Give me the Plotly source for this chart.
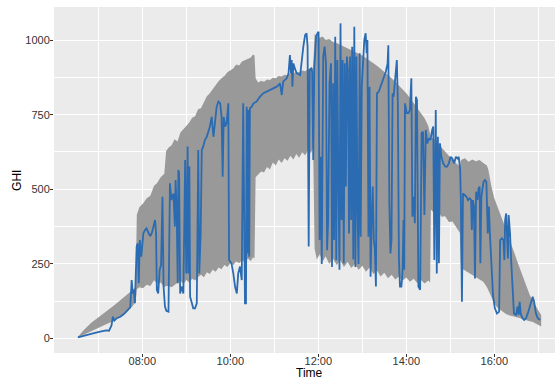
import pandas as pd
import plotly.graph_objects as go

# ---- ribbon (band) data: minutes since midnight, upper and lower GHI ----
rib_minute = [392, 400, 410, 420, 430, 440, 450, 460, 466, 471,
              472.5, 476, 481, 486, 491, 496, 500, 505, 510, 512.5,
              516, 520, 524, 528, 532, 536, 540, 544, 548, 552, 556, 560, 564, 568, 572, 576, 580,
              584, 588, 592, 596, 600, 604, 608, 612, 616, 620, 624, 628,
              631, 633, 634.5,
              638, 642, 646, 650, 654, 658, 662, 666, 670, 674, 678, 682, 686, 690, 694, 698, 702, 706, 710,
              713, 715, 718, 722, 726, 730,
              735, 740, 745, 750, 755, 760, 765, 770, 775, 780, 785, 790, 795, 800, 805, 810, 815, 820,
              825, 830, 835, 840, 845, 850, 855, 860, 865, 870,
              872.5, 873.5, 878, 883, 888, 893, 898, 903, 908, 913,
              914.5, 920, 925, 930, 935, 940, 945, 950, 952,
              956, 960, 964, 968, 972, 976, 980, 984, 988, 992, 996, 1000, 1004, 1008, 1012, 1016, 1020, 1024]
rib_upper = [5, 28, 52, 70, 90, 108, 128, 148, 160, 172,
             415, 440, 452, 470, 478, 512, 520, 540, 552, 628,
             640, 648, 668, 660, 690, 700, 712, 724, 740, 745, 768, 772, 795, 812, 822, 836, 850,
             862, 872, 880, 892, 898, 905, 918, 915, 928, 932, 938, 942,
             952, 948, 872,
             858, 864, 860, 868, 866, 874, 872, 880, 878, 884, 882, 890, 888, 894, 892, 898, 896, 902, 904,
             908, 1020, 1015, 1008, 1012, 1000,
             1004, 994, 990, 984, 978, 972, 968, 960, 956, 948, 940, 932, 924, 914, 904, 894, 884, 872,
             860, 848, 836, 822, 806, 790, 772, 754, 738, 712,
             690, 675, 668, 656, 640, 624, 612, 598, 588, 576,
             598, 604, 592, 600, 594, 598, 588, 580, 565,
             510, 470, 440, 418, 392, 368, 336, 306, 282, 254, 228, 196, 170, 148, 128, 112, 96, 78]
rib_lower = [3, 12, 24, 35, 47, 58, 74, 92, 106, 122,
             165, 172, 168, 180, 176, 195, 184, 188, 172, 176,
             176, 172, 180, 186, 194, 182, 196, 188, 200, 194, 206, 214, 205, 222, 216, 230, 224,
             238, 232, 246, 240, 252, 246, 258, 252, 262, 256, 268, 260,
             272, 268, 540,
             548, 560, 556, 575, 566, 590, 580, 600, 588, 604, 596, 612, 600, 618, 606, 624, 614, 630, 622,
             640, 300, 265, 282, 258, 276,
             250, 268, 246, 262, 240, 256, 236, 250, 230, 244, 224, 238, 216, 228, 208, 220, 202, 214,
             198, 208, 194, 204, 190, 200, 186, 196, 184, 194,
             188, 432, 420, 428, 408, 410, 390, 392, 372, 354,
             236, 228, 220, 214, 206, 198, 190, 172, 164,
             140, 118, 104, 96, 88, 82, 78, 76, 72, 70, 68, 64, 62, 58, 56, 52, 46, 40]

# ---- measured GHI series: minutes since midnight and value ----
ghi_minute = [392.2, 401.8, 411.5, 421.1, 430.8, 434.6, 438.0, 439.9, 441.9, 445.2, 450.1, 454.9, 459.7, 463.6,
              465.5, 467.0, 468.4, 469.9, 472.3, 473.7, 475.2, 476.6, 478.6, 481.4, 483.9, 485.8, 488.7, 491.1,
              493.5, 495.4, 497.4, 498.8, 499.8, 501.7, 503.7, 505.6, 507.5, 509.0, 510.9, 512.8, 515.7, 517.7,
              519.6, 521.0, 522.5, 524.4, 525.4, 526.8, 528.3, 529.2, 530.2, 531.6, 533.6, 536.0, 538.4, 539.9,
              540.8, 541.8, 542.8, 544.2, 545.2, 547.1, 549.5, 551.9, 554.3, 556.3, 557.7, 559.6, 561.1, 563.0,
              565.4, 567.9, 569.8, 572.2, 574.6, 577.0, 579.0, 581.4, 583.8, 586.2, 588.1, 589.6, 591.0, 593.0,
              594.9, 597.3, 598.3, 601.6, 604.1, 606.5, 608.9, 610.8, 613.2, 615.6, 617.6, 619.0, 620.0, 621.4,
              622.4, 623.4, 624.8, 625.8, 626.7, 629.2, 631.6, 635.9, 640.3, 645.1, 649.4, 654.3, 658.6, 663.4,
              667.8, 670.2, 672.1, 676.9, 679.4, 681.3, 682.7, 683.7, 684.7, 686.1, 688.0, 690.5, 695.3, 697.2,
              699.6, 702.0, 704.0, 705.4, 706.9, 708.3, 710.2, 711.7, 713.1, 714.6, 717.0, 718.9, 720.4, 721.8,
              723.3, 724.7, 726.7, 728.6, 730.5, 732.0, 733.4, 735.3, 737.3, 738.7, 740.2, 741.6, 743.1, 744.5,
              746.0, 747.4, 748.9, 750.3, 751.8, 753.2, 754.7, 756.1, 757.6, 759.0, 760.4, 761.9, 763.3, 764.8,
              766.2, 767.7, 769.1, 770.6, 772.0, 773.5, 774.9, 776.4, 777.8, 779.3, 780.7, 782.7, 784.6, 786.0,
              787.0, 788.4, 789.9, 791.3, 792.8, 794.2, 795.7, 797.1, 798.6, 800.0, 802.4, 804.9, 807.3, 809.7,
              812.1, 814.5, 815.5, 816.9, 818.4, 819.8, 821.3, 822.7, 825.1, 827.1, 828.5, 830.0, 831.4, 833.3,
              834.8, 836.2, 837.2, 838.2, 840.6, 843.0, 844.9, 846.9, 848.3, 849.7, 851.7, 853.1, 854.6, 856.5,
              858.9, 860.9, 862.8, 864.7, 866.6, 868.6, 871.0, 872.9, 875.3, 876.8, 878.2, 880.2, 881.6, 883.1,
              884.5, 885.9, 887.9, 890.3, 893.2, 895.6, 898.0, 900.4, 902.8, 905.3, 907.7, 910.1, 911.5, 913.5,
              914.4, 915.9, 917.3, 919.7, 922.2, 924.1, 926.5, 928.4, 929.4, 930.8, 932.3, 933.7, 935.2, 937.1,
              938.6, 940.0, 941.0, 942.4, 945.3, 947.3, 949.2, 951.1, 952.6, 954.0, 955.9, 958.4, 960.8, 963.7,
              966.6, 968.0, 970.4, 972.4, 973.8, 974.8, 976.2, 977.2, 978.6, 979.6, 981.5, 983.0, 984.9, 986.8,
              989.7, 991.7, 993.1, 994.6, 996.0, 998.4, 1000.8, 1003.2, 1005.7, 1008.1, 1010.5, 1012.4, 1014.3,
              1016.8, 1019.2, 1022.6]
ghi = [4, 9, 16, 22, 27, 26, 44, 73, 60, 68, 73, 82, 93, 104,
       196, 151, 163, 118, 308, 319, 185, 330, 274, 352, 364, 369, 352, 343,
       358, 375, 397, 352, 163, 151, 230, 246, 475, 174, 107, 93, 90, 520,
       464, 475, 486, 375, 531, 442, 185, 565, 553, 151, 174, 151, 598, 218,
       632, 643, 218, 576, 140, 118, 101, 101, 118, 632, 218, 352, 632, 643,
       665, 676, 693, 710, 743, 676, 721, 777, 794, 788, 743, 542, 743, 710,
       721, 788, 263, 252, 218, 174, 151, 218, 241, 196, 788, 285, 118, 118,
       777, 285, 766, 274, 771, 777, 788, 794, 810, 822, 827, 833, 838, 844,
       855, 816, 861, 872, 889, 950, 889, 933, 844, 922, 905, 889, 883, 933,
       978, 1017, 1023, 978, 308, 900, 905, 894, 598, 911, 1011, 1023, 1028, 330,
       609, 250, 945, 978, 922, 296, 397, 855, 922, 240, 855, 330, 1011, 262,
       933, 531, 230, 1056, 397, 933, 252, 922, 509, 945, 900, 352, 945, 397,
       978, 265, 1045, 240, 945, 419, 250, 956, 341, 844, 900, 1000, 1023, 956,
       1000, 341, 844, 207, 397, 509, 330, 300, 174, 822, 827, 844, 855, 872,
       894, 922, 983, 453, 285, 330, 822, 810, 866, 933, 788, 263, 174, 174,
       218, 397, 230, 788, 755, 755, 766, 872, 408, 475, 386, 810, 799, 174,
       163, 688, 693, 414, 699, 654, 671, 665, 699, 710, 263, 766, 218, 676,
       252, 654, 609, 587, 576, 576, 587, 609, 603, 587, 609, 603, 609, 565,
       464, 123, 486, 481, 475, 464, 470, 464, 364, 464, 442, 201, 492, 464,
       503, 509, 252, 475, 525, 531, 525, 352, 442, 352, 252, 140, 101, 84,
       90, 330, 336, 330, 263, 397, 419, 352, 268, 414, 352, 263, 151, 84,
       79, 107, 79, 123, 84, 68, 62, 68, 84, 107, 129, 140, 123,
       84, 68, 62]

x_tick_labels = ["08:00", "10:00", "12:00", "14:00", "16:00"]
y_ticks = [0, 250, 500, 750, 1000]

base = pd.Timestamp("2020-06-01")
rib_t = [base + pd.Timedelta(minutes=m) for m in rib_minute]
ghi_t = [base + pd.Timedelta(minutes=m) for m in ghi_minute]
x_tickvals = [pd.Timestamp("2020-06-01 " + s) for s in x_tick_labels]

poly_x = rib_t + rib_t[::-1]
poly_y = rib_upper + rib_lower[::-1]

fig = go.Figure()
fig.add_trace(go.Scatter(x=poly_x, y=poly_y, fill="toself", fillcolor="#999999",
                         mode="lines", line=dict(width=0, color="#999999"),
                         hoverinfo="skip", showlegend=False))
fig.add_trace(go.Scatter(x=ghi_t, y=ghi, mode="lines",
                         line=dict(color="#2B6BB2", width=1.8),
                         showlegend=False))

tickfont = dict(family="Liberation Sans, Arial, sans-serif", size=11, color="#333333")
fig.update_layout(
    width=555, height=383,
    margin=dict(l=54, r=0, t=7, b=30),
    paper_bgcolor="white", plot_bgcolor="#EBEBEB",
    xaxis=dict(type="date",
               range=["2020-06-01 05:59:35", "2020-06-01 17:22:48"],
               tickvals=x_tickvals, ticktext=x_tick_labels,
               showgrid=True, gridcolor="white", gridwidth=1.1,
               minor=dict(dtick=3600000, tick0="2020-06-01 07:00", showgrid=True,
                          gridcolor="white", gridwidth=0.55, ticks=""),
               ticks="outside", ticklen=3, tickcolor="#333333", tickwidth=1,
               ticklabelstandoff=-5,
               tickfont=tickfont, zeroline=False, showline=False),
    yaxis=dict(range=[-48.6, 1110.9], tickvals=y_ticks,
               showgrid=True, gridcolor="white", gridwidth=1.1,
               minor=dict(dtick=125, tick0=0, showgrid=True, gridcolor="white",
                          gridwidth=0.55, ticks=""),
               ticks="outside", ticklen=3, tickcolor="#333333", tickwidth=1,
               ticklabelstandoff=-2,
               tickfont=tickfont, zeroline=False, showline=False),
    annotations=[
        dict(text="Time", xref="paper", yref="paper", x=0.509, y=-0.058,
             xanchor="center", yanchor="middle", showarrow=False,
             font=dict(family="Liberation Sans, Arial, sans-serif", size=12, color="black")),
        dict(text="GHI", xref="paper", yref="paper", x=-0.074, y=0.5, textangle=-90,
             xanchor="center", yanchor="middle", showarrow=False,
             font=dict(family="Liberation Sans, Arial, sans-serif", size=12, color="black")),
    ],
)

fig.write_html("out.html")
